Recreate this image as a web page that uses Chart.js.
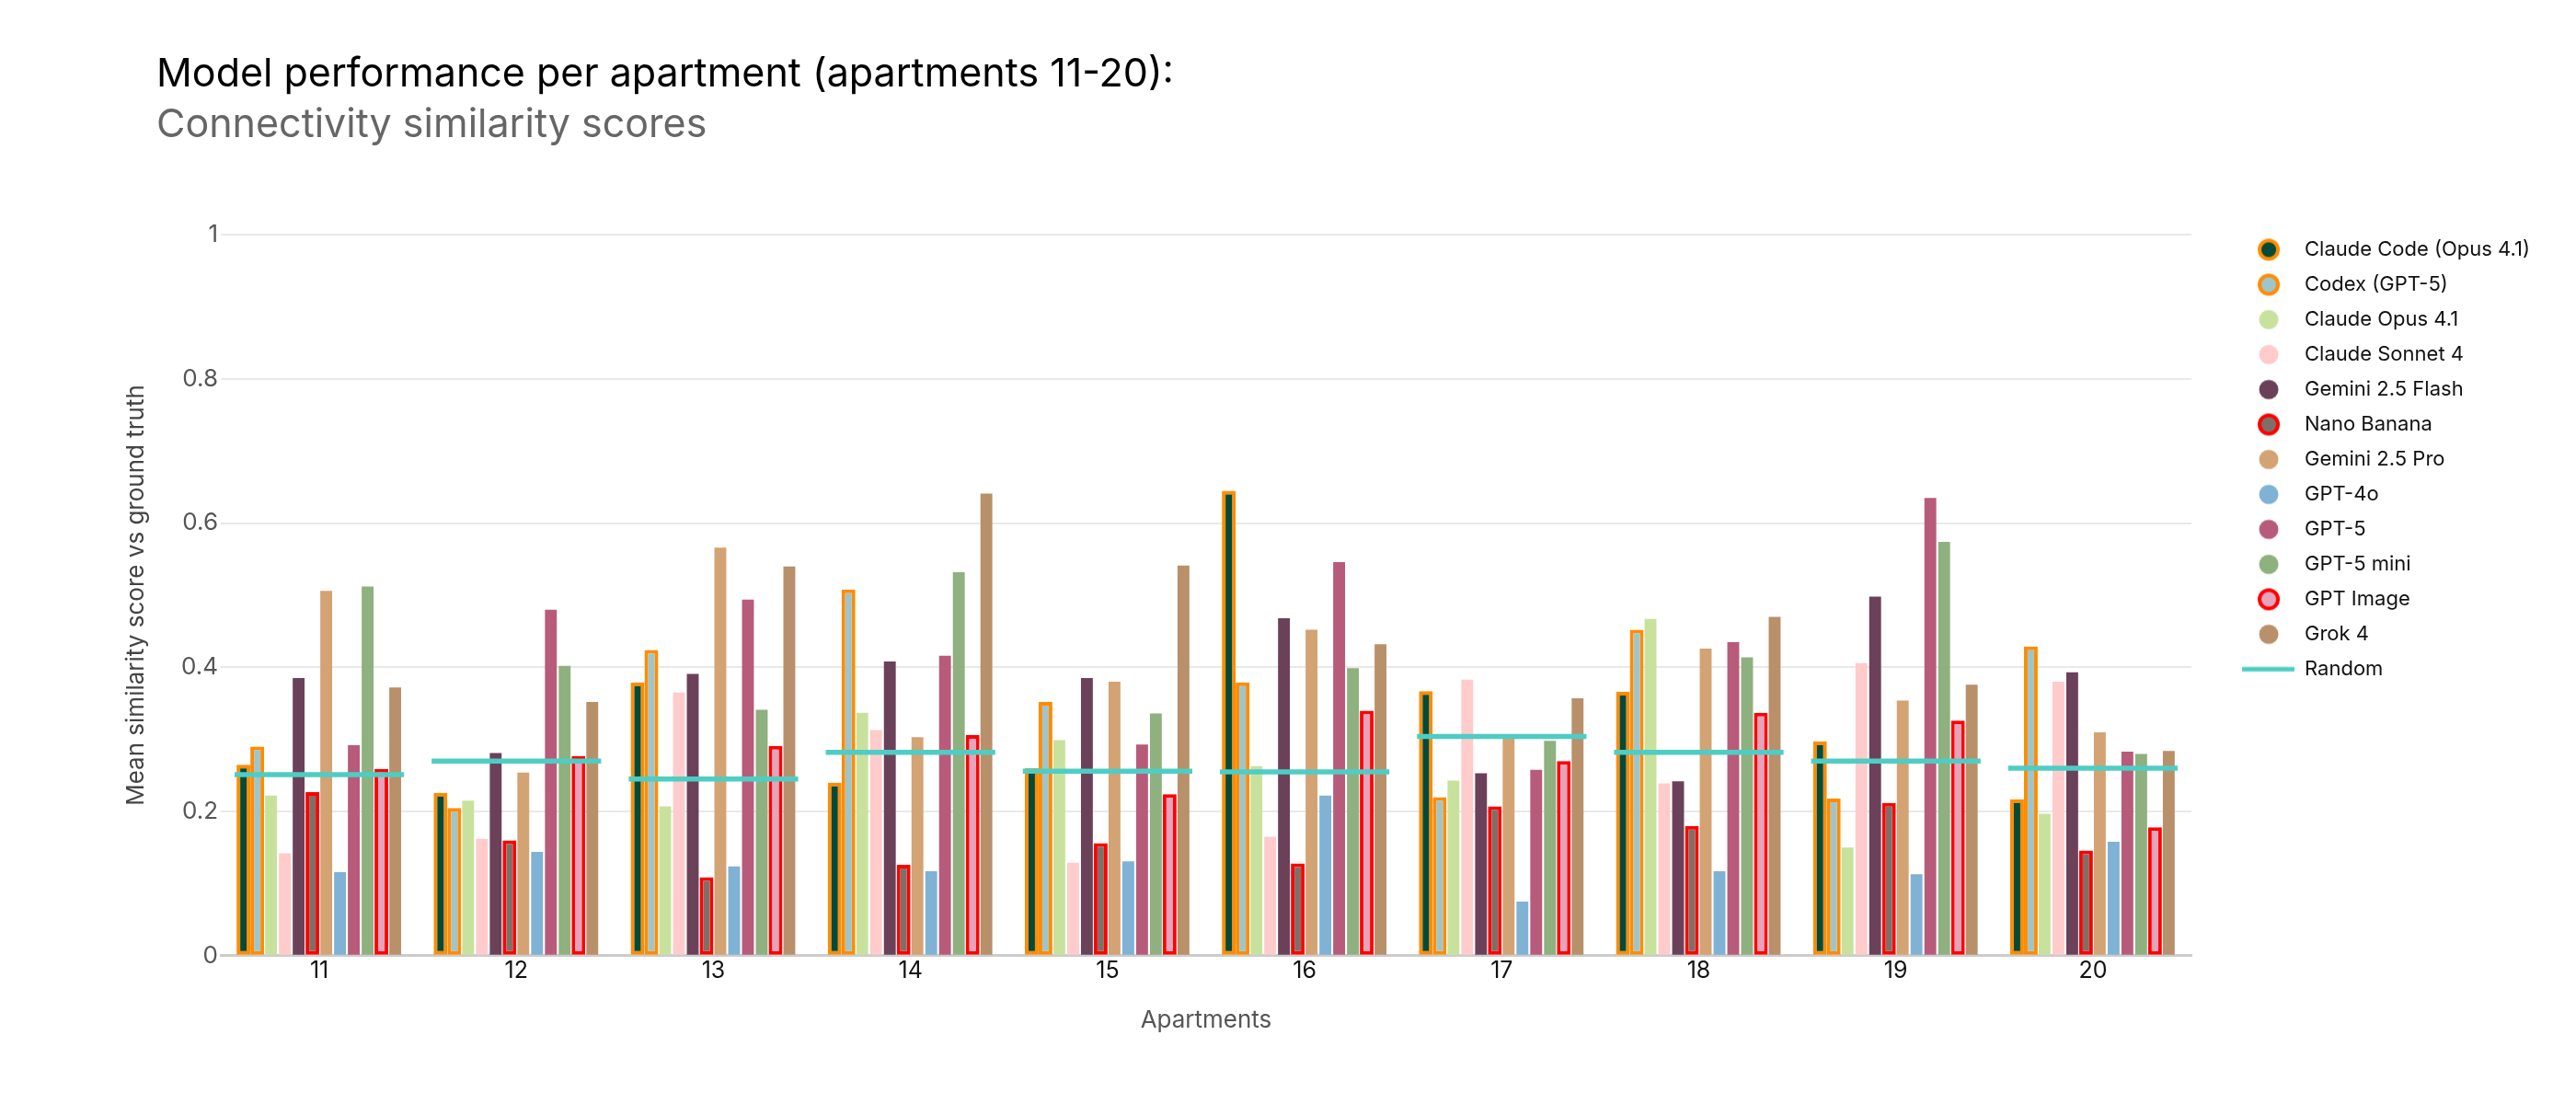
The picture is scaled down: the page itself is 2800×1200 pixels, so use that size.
<!DOCTYPE html>
<html lang="en">
<head>
<meta charset="utf-8">
<title>Model performance per apartment (apartments 11-20)</title>
<script src="https://cdn.jsdelivr.net/npm/chart.js@4.4.1/dist/chart.umd.min.js"></script>
<style>
    html, body { margin: 0; padding: 0; background: #ffffff; }
    .chart-wrap { position: relative; width: 2800px; height: 1200px; }
</style>
</head>
<body>
<div class="chart-wrap"><canvas id="apartmentChart"></canvas></div>
<script>
// Apartments on the x axis
const apartments = ['11', '12', '13', '14', '15', '16', '17', '18', '19', '20'];

// Mean similarity score per model, one value per apartment
const claudeCode   = [0.265, 0.226, 0.379, 0.240, 0.260, 0.645, 0.367, 0.366, 0.297, 0.217];
const codex        = [0.290, 0.205, 0.424, 0.508, 0.352, 0.379, 0.220, 0.452, 0.218, 0.429];
const claudeOpus   = [0.222, 0.215, 0.207, 0.337, 0.299, 0.263, 0.243, 0.467, 0.150, 0.197];
const claudeSonnet = [0.142, 0.162, 0.365, 0.313, 0.129, 0.165, 0.383, 0.239, 0.406, 0.380];
const geminiFlash  = [0.385, 0.281, 0.391, 0.408, 0.385, 0.468, 0.253, 0.242, 0.498, 0.393];
const nanoBanana   = [0.227, 0.160, 0.109, 0.126, 0.156, 0.128, 0.207, 0.180, 0.212, 0.146];
const geminiPro    = [0.506, 0.254, 0.566, 0.303, 0.380, 0.452, 0.301, 0.426, 0.354, 0.310];
const gpt4o        = [0.116, 0.144, 0.124, 0.117, 0.131, 0.222, 0.075, 0.117, 0.113, 0.158];
const gpt5         = [0.292, 0.480, 0.494, 0.416, 0.293, 0.546, 0.258, 0.435, 0.635, 0.283];
const gpt5mini     = [0.512, 0.402, 0.341, 0.532, 0.336, 0.399, 0.298, 0.414, 0.574, 0.280];
const gptImage     = [0.259, 0.277, 0.291, 0.306, 0.224, 0.340, 0.270, 0.337, 0.326, 0.178];
const grok4        = [0.372, 0.352, 0.540, 0.641, 0.541, 0.432, 0.357, 0.470, 0.376, 0.284];

// Random baseline per apartment
const randomBaseline = [0.251, 0.270, 0.245, 0.282, 0.256, 0.255, 0.304, 0.282, 0.270, 0.260];

const modelNames = [
    'Claude Code (Opus 4.1)', 'Codex (GPT-5)', 'Claude Opus 4.1', 'Claude Sonnet 4',
    'Gemini 2.5 Flash', 'Nano Banana', 'Gemini 2.5 Pro', 'GPT-4o',
    'GPT-5', 'GPT-5 mini', 'GPT Image', 'Grok 4',
];
const modelScores = [
    claudeCode, codex, claudeOpus, claudeSonnet,
    geminiFlash, nanoBanana, geminiPro, gpt4o,
    gpt5, gpt5mini, gptImage, grok4,
];

const fillColors = [
    '#034a3a', '#9fc5cb', '#c8e29e', '#ffcbcb',
    '#6b4159', '#7f7067', '#d3a373', '#7fb2d5',
    '#b85b7b', '#8fb07f', '#e6a3bc', '#b8906a',
];
// agents get an orange outline, image models a red one
const outlineColors = [
    '#ff8c00', '#ff8c00', null, null,
    null, '#ff0000', null, null,
    null, null, '#ff0000', null,
];
const randomColor = '#4ecdc4';

Chart.defaults.font.family = 'Inter, "Open Sans", sans-serif';

// legend glyphs: a dot (optionally ringed) or a short line for the baseline
const iconWidth = 96;
const makeDot = (fill, outline) => {
    const icon = document.createElement('canvas');
    icon.width = iconWidth;
    icon.height = 26;
    const c = icon.getContext('2d');
    c.beginPath();
    c.arc(68, 13, outline ? 10 : 10.5, 0, Math.PI * 2);
    c.fillStyle = fill;
    c.fill();
    if (outline) {
        c.lineWidth = 4;
        c.strokeStyle = outline;
        c.stroke();
    }
    return icon;
};
const makeLine = (color) => {
    const icon = document.createElement('canvas');
    icon.width = iconWidth;
    icon.height = 26;
    const c = icon.getContext('2d');
    c.fillStyle = color;
    c.fillRect(39, 10.5, 57, 5);
    return icon;
};
const legendIcons = fillColors.map((fill, i) => makeDot(fill, outlineColors[i]));
legendIcons.push(makeLine(randomColor));

const datasets = modelNames.map((name, i) => ({
    label: name,
    data: modelScores[i],
    backgroundColor: fillColors[i],
    borderColor: outlineColors[i] || fillColors[i],
    borderWidth: outlineColors[i] ? 4 : 0,
    borderSkipped: false,
    barPercentage: outlineColors[i] ? 1 : 0.86,
    categoryPercentage: 0.84,
}));

// baseline drawn as a thin floating bar spanning the whole group
datasets.push({
    label: 'Random',
    data: randomBaseline.map((v) => [v - 0.0035, v + 0.0035]),
    backgroundColor: randomColor,
    borderWidth: 0,
    grouped: false,
    barPercentage: 1,
    categoryPercentage: 0.86,
    order: -1,
});

const ctx = document.getElementById('apartmentChart');

new Chart(ctx, {
    type: 'bar',
    data: {
        labels: apartments,
        datasets,
    },
    options: {
        responsive: true,
        maintainAspectRatio: false,
        animation: false,
        layout: {
            padding: { left: 170, right: 40, top: 0, bottom: 75 },
        },
        plugins: {
            title: {
                display: true,
                text: 'Model performance per apartment (apartments 11-20):',
                align: 'start',
                color: '#000000',
                font: { size: 43, weight: 'normal' },
                padding: { top: 55, bottom: 0 },
            },
            subtitle: {
                display: true,
                text: 'Connectivity similarity scores',
                align: 'start',
                color: '#666666',
                font: { size: 43, weight: 'normal' },
                padding: { top: 4, bottom: 93 },
            },
            legend: {
                position: 'right',
                align: 'start',
                fullSize: false,
                // empty title with negative padding lifts the items to the plot top
                title: {
                    display: true,
                    text: ' ',
                    font: { size: 1 },
                    padding: { top: -12, bottom: 0 },
                },
                labels: {
                    usePointStyle: true,
                    pointStyleWidth: iconWidth,
                    padding: 16,
                    color: '#111111',
                    font: { size: 22 },
                    sort: (a, b) => a.datasetIndex - b.datasetIndex,
                    generateLabels: (chart) => {
                        const items = Chart.defaults.plugins.legend.labels.generateLabels(chart);
                        items.forEach((item) => {
                            item.pointStyle = legendIcons[item.datasetIndex];
                        });
                        return items;
                    },
                },
            },
            tooltip: {
                callbacks: {
                    label: (context) => {
                        const raw = context.raw;
                        const value = Array.isArray(raw) ? (raw[0] + raw[1]) / 2 : raw;
                        return `${context.dataset.label}: ${value.toFixed(3)}`;
                    },
                },
            },
        },
        scales: {
            x: {
                ticks: { padding: 2, color: '#111111', font: { size: 25 } },
                grid: { display: false, drawTicks: false },
                border: { color: '#cccccc', width: 3 },
                title: {
                    display: true,
                    text: 'Apartments',
                    color: '#555555',
                    font: { size: 26 },
                    padding: { top: 21, bottom: 0 },
                },
            },
            y: {
                min: 0,
                max: 1,
                afterFit: (scale) => {
                    scale.width = 70;
                },
                ticks: {
                    stepSize: 0.2,
                    padding: 3,
                    color: '#555555',
                    font: { size: 26 },
                    callback: (value) => String(Number(value.toFixed(1))),
                },
                grid: { color: '#e9e9e9', lineWidth: 2, drawTicks: false },
                border: { display: false },
                title: {
                    display: true,
                    text: 'Mean similarity score vs ground truth',
                    color: '#444444',
                    font: { size: 26 },
                    padding: { top: -37, bottom: 0 },
                },
            },
        },
    },
});
</script>
</body>
</html>
